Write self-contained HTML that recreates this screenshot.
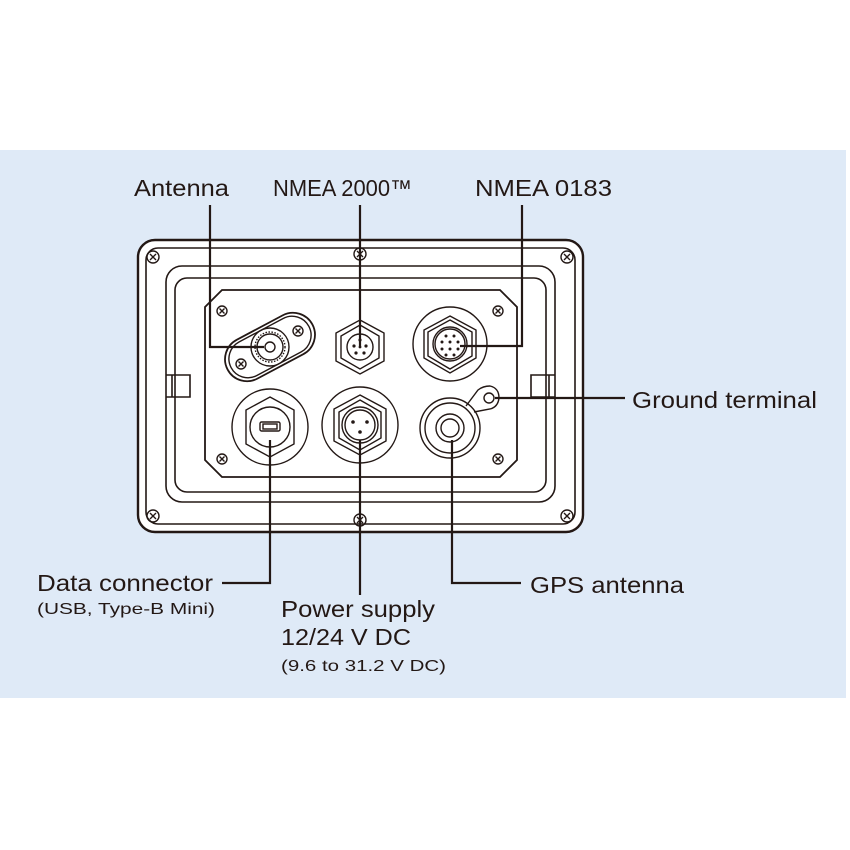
<!DOCTYPE html>
<html><head><meta charset="utf-8"><style>
html,body{margin:0;padding:0;background:#fff;width:850px;height:850px;overflow:hidden}
svg{display:block}
text{font-family:"Liberation Sans",sans-serif;fill:#231815}
</style></head><body>
<svg width="850" height="850" viewBox="0 0 850 850" xmlns="http://www.w3.org/2000/svg">
<rect x="0" y="150" width="846" height="548" fill="#dfeaf7"/>
<g fill="none" stroke="#231815" stroke-width="1.6">
<rect x="138" y="240" width="445" height="292" rx="17" fill="#fff" stroke-width="2.4"/>
<rect x="146" y="248" width="429" height="276" rx="12"/>
<rect x="166" y="266" width="389" height="236" rx="16"/>
<rect x="175" y="278" width="371" height="214" rx="12"/>
<path d="M166 375 h24 v22 h-24 M555 375 h-24 v22 h24"/>
<path d="M172 375 v22 M549 375 v22"/>
<path d="M222 290 H500 L517 307 V460 L500 477 H222 L205 460 V307 Z" stroke-width="1.8"/>
</g>
<g fill="none" stroke="#231815" stroke-width="1.4">
<g transform="translate(153,257)"><circle r="6"/><path d="M-3 -3L3 3M3 -3L-3 3"/></g>
<g transform="translate(567,257)"><circle r="6"/><path d="M-3 -3L3 3M3 -3L-3 3"/></g>
<g transform="translate(153,516)"><circle r="6"/><path d="M-3 -3L3 3M3 -3L-3 3"/></g>
<g transform="translate(567,516)"><circle r="6"/><path d="M-3 -3L3 3M3 -3L-3 3"/></g>
<g transform="translate(360,254)"><circle r="6"/><path d="M-3 -3L3 3M3 -3L-3 3"/></g>
<g transform="translate(360,520)"><circle r="6"/><path d="M-3 -3L3 3M3 -3L-3 3"/></g>
<g transform="translate(222,311)"><circle r="5"/><path d="M-2.5 -2.5L2.5 2.5M2.5 -2.5L-2.5 2.5"/></g>
<g transform="translate(498,311)"><circle r="5"/><path d="M-2.5 -2.5L2.5 2.5M2.5 -2.5L-2.5 2.5"/></g>
<g transform="translate(222,459)"><circle r="5"/><path d="M-2.5 -2.5L2.5 2.5M2.5 -2.5L-2.5 2.5"/></g>
<g transform="translate(498,459)"><circle r="5"/><path d="M-2.5 -2.5L2.5 2.5M2.5 -2.5L-2.5 2.5"/></g>
<g transform="translate(270,347) rotate(-28)">
<rect x="-48" y="-22" width="96" height="44" rx="22" stroke-width="1.8"/>
<rect x="-44" y="-19" width="88" height="38" rx="19"/>
</g>
<circle cx="270" cy="347" r="19"/><circle cx="270" cy="347" r="15" stroke-dasharray="1.5 1.5"/><circle cx="270" cy="347" r="13"/><circle cx="270" cy="347" r="5"/>
<g transform="translate(298,331)"><circle r="5"/><path d="M-2.5 -2.5L2.5 2.5M2.5 -2.5L-2.5 2.5"/></g>
<g transform="translate(241,364)"><circle r="5"/><path d="M-2.5 -2.5L2.5 2.5M2.5 -2.5L-2.5 2.5"/></g>
<path d="M360 320 L384 333 V361 L360 374 L336 361 V333 Z"/>
<path d="M360 325 L379 336 V358 L360 369 L341 358 V336 Z"/>
<circle cx="360" cy="347" r="13"/>
<g fill="#231815" stroke="none"><circle cx="360" cy="340" r="1.6"/><circle cx="354" cy="346" r="1.6"/><circle cx="366" cy="346" r="1.6"/><circle cx="356" cy="353" r="1.6"/><circle cx="364" cy="353" r="1.6"/><circle cx="360" cy="347" r="1.4"/></g>
<circle cx="450" cy="344" r="37"/>
<path d="M450 316 L476 330 V358 L450 373 L424 358 V330 Z"/>
<path d="M450 320 L472 332 V356 L450 369 L428 356 V332 Z"/>
<circle cx="450" cy="344" r="17"/><circle cx="450" cy="344" r="15"/>
<g fill="#231815" stroke="none"><circle cx="446" cy="336" r="1.5"/><circle cx="454" cy="336" r="1.5"/><circle cx="442" cy="342" r="1.5"/><circle cx="450" cy="342" r="1.5"/><circle cx="458" cy="342" r="1.5"/><circle cx="442" cy="349" r="1.5"/><circle cx="450" cy="349" r="1.5"/><circle cx="458" cy="349" r="1.5"/><circle cx="446" cy="355" r="1.5"/><circle cx="454" cy="355" r="1.5"/></g>
<circle cx="270" cy="427" r="38"/>
<path d="M270 397 L294 410 V444 L270 457 L246 444 V410 Z"/>
<circle cx="270" cy="427" r="20"/>
<rect x="260" y="422" width="20" height="9" rx="1.5"/><rect x="263" y="424" width="14" height="5"/>
<circle cx="360" cy="425" r="38"/>
<path d="M360 395 L386 409 V441 L360 455 L334 441 V409 Z"/>
<path d="M360 400 L381 412 V438 L360 450 L339 438 V412 Z"/>
<circle cx="360" cy="425" r="18"/><circle cx="360" cy="425" r="15"/>
<g fill="#231815" stroke="none"><circle cx="353" cy="422" r="1.8"/><circle cx="367" cy="422" r="1.8"/><circle cx="360" cy="432" r="1.8"/></g>
<circle cx="450" cy="428" r="30"/>
<circle cx="450" cy="428" r="25"/>
<circle cx="450" cy="428" r="14"/><circle cx="450" cy="428" r="9"/>
<path d="M466 406 L478 390 Q483 386 490 386 Q499 388 499 398 Q498 407 490 409 L474 412"/>
<circle cx="489" cy="398" r="5"/>
</g>
<g fill="none" stroke="#231815" stroke-width="2.2">
<path d="M210 205 V347 H264"/>
<path d="M360 205 V346"/>
<path d="M522 205 V346 H460"/>
<path d="M495 398 H625"/>
<path d="M270 440 V583 H222"/>
<path d="M360 440 V595"/>
<path d="M452 440 V583 H521"/>
</g>
<g font-size="23">
<text x="134" y="196" textLength="95" lengthAdjust="spacingAndGlyphs">Antenna</text>
<text x="273" y="196" textLength="139" lengthAdjust="spacingAndGlyphs">NMEA 2000™</text>
<text x="475" y="196" textLength="137" lengthAdjust="spacingAndGlyphs">NMEA 0183</text>
<text x="632" y="408" textLength="185" lengthAdjust="spacingAndGlyphs">Ground terminal</text>
<text x="37" y="591" textLength="176" lengthAdjust="spacingAndGlyphs">Data connector</text>
<text x="281" y="617" textLength="154" lengthAdjust="spacingAndGlyphs">Power supply</text>
<text x="281" y="645" textLength="130" lengthAdjust="spacingAndGlyphs">12/24 V DC</text>
<text x="530" y="593" textLength="154" lengthAdjust="spacingAndGlyphs">GPS antenna</text>
</g>
<g font-size="16">
<text x="37" y="614" textLength="178" lengthAdjust="spacingAndGlyphs">(USB, Type-B Mini)</text>
<text x="281" y="671" textLength="165" lengthAdjust="spacingAndGlyphs">(9.6 to 31.2 V DC)</text>
</g>
</svg>
</body></html>
